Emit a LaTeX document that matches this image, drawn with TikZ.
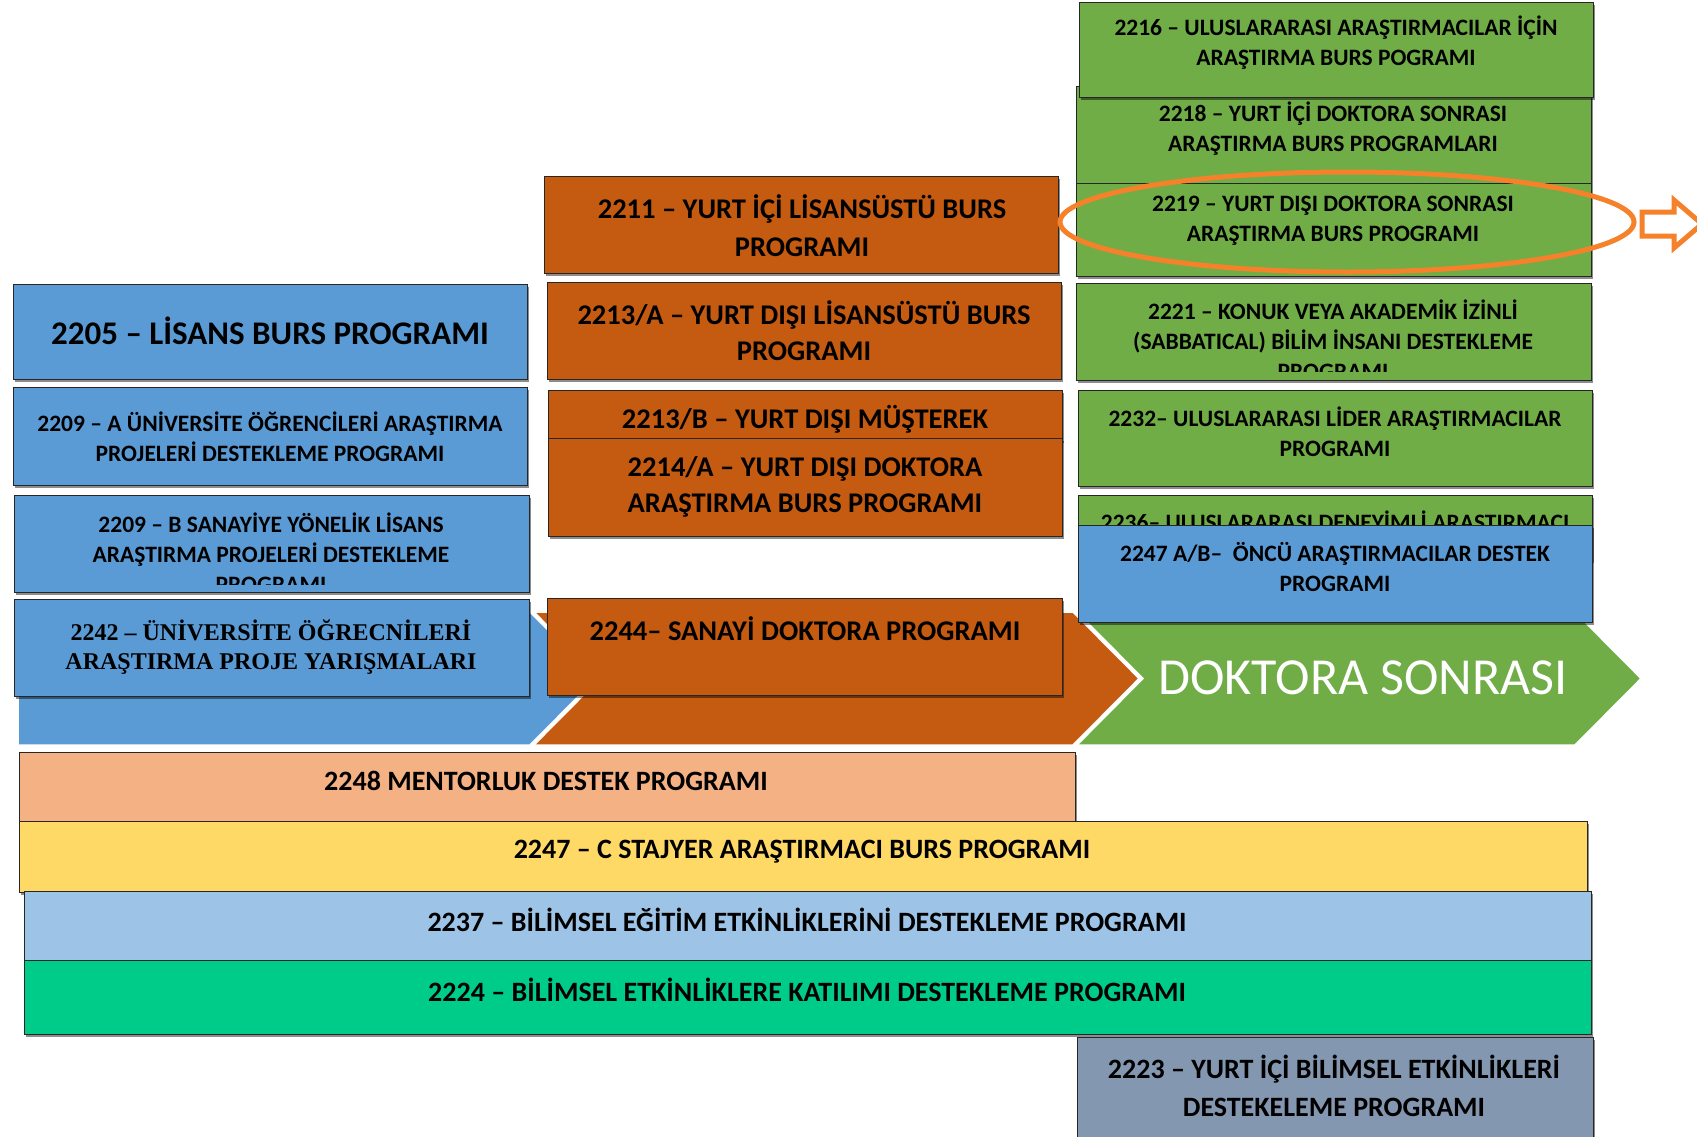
\documentclass[tikz,border=0pt]{standalone}
\usepackage{fontspec}
\setmainfont{Carlito}
\newfontfamily\timesb{Liberation Serif}
\usetikzlibrary{shadows}
\definecolor{cblue}{HTML}{5B9BD5}
\definecolor{corange}{HTML}{C55A11}
\definecolor{cgreen}{HTML}{70AD47}
\definecolor{csalmon}{HTML}{F4B183}
\definecolor{cyellow}{HTML}{FFD966}
\definecolor{clblue}{HTML}{9DC3E6}
\definecolor{cteal}{HTML}{00CC8A}
\definecolor{cslate}{HTML}{8497B0}
\definecolor{chl}{HTML}{F5822A}
\newcommand\mybox[6]{\node[box,fill=#2,minimum width={#5pt-#3pt},minimum height={#6pt-#4pt}] (#1) at (#3,#4) {};}
\begin{document}
\begin{tikzpicture}[x=1pt,y=-1pt,
  box/.style={draw=black!85,line width=1.3pt,inner sep=0pt,anchor=north west,
    drop shadow={shadow xshift=1pt,shadow yshift=-2.5pt,opacity=0.45,fill=black}},
  txt/.style={align=center,inner sep=0pt,text=black},
  fsmall/.style={font=\bfseries\fontsize{23.5}{30}\selectfont},
  fmid/.style={font=\bfseries\fontsize{28.5}{37}\selectfont},
  fbar/.style={font=\bfseries\fontsize{28}{38}\selectfont},
  hl/.style={draw=chl,line width=5pt},
  chev/.style={draw=white,line width=1.5pt}]
\useasboundingbox (0,0) rectangle (1697,1136);
\fill[white] (0,0) rectangle (1697,1136);
% chevrons
\path[chev,fill=cblue] (18,612) -- (530,612) -- (596,678.5) -- (530,745) -- (18,745) -- cycle;
\path[chev,fill=corange] (534,612) -- (1073,612) -- (1139,678.5) -- (1073,745) -- (534,745) -- (600,678.5) -- cycle;
\path[chev,fill=cgreen] (1077,612) -- (1575,612) -- (1641,678.5) -- (1575,745) -- (1077,745) -- (1143,678.5) -- cycle;
\node[font=\fontsize{52}{60}\selectfont,text=white,inner sep=0pt] (tds) at (1363,678) {DOKTORA SONRASI};
% left column
\mybox{b2205}{cblue}{13}{284}{527}{379}
\node[txt,font=\bfseries\fontsize{33}{40}\selectfont] (t2205) at (270,331) {2205 – LİSANS BURS PROGRAMI};
\mybox{b2209a}{cblue}{13}{387}{527}{485}
\node[txt,fsmall] (t2209a) at (270,437) {2209 – A ÜNİVERSİTE ÖĞRENCİLERİ ARAŞTIRMA\\PROJELERİ DESTEKLEME PROGRAMI};
\mybox{b2209b}{cblue}{14}{495}{529}{592}
\begin{scope}
\clip (15,496) rectangle (528,584);
\node[txt,fsmall] (t2209b) at (271,553) {2209 – B SANAYİYE YÖNELİK LİSANS\\ARAŞTIRMA PROJELERİ DESTEKLEME\\PROGRAMI};
\end{scope}
\mybox{b2242}{cblue}{14}{599}{529}{696}
\node[txt,font=\timesb\bfseries\fontsize{24}{29}\selectfont] (t2242) at (271,647.5) {2242 – ÜNİVERSİTE ÖĞRECNİLERİ\\ARAŞTIRMA PROJE YARIŞMALARI};
% middle column
\mybox{b2211}{corange}{544}{176}{1058}{273}
\node[txt,font=\bfseries\fontsize{28.5}{38}\selectfont] (t2211) at (802,226) {2211 – YURT İÇİ LİSANSÜSTÜ BURS\\PROGRAMI};
\mybox{b2213a}{corange}{547}{282}{1061}{379}
\node[txt,font=\bfseries\fontsize{28.5}{36}\selectfont] (t2213a) at (804,330.5) {2213/A – YURT DIŞI LİSANSÜSTÜ BURS\\PROGRAMI};
\mybox{b2213b}{corange}{548}{390}{1062}{440}
\node[txt,fmid] (t2213b) at (805,419) {2213/B – YURT DIŞI MÜŞTEREK};
\mybox{b2214a}{corange}{548}{438}{1062}{536}
\node[txt,font=\bfseries\fontsize{28.5}{36}\selectfont] (t2214a) at (805,487) {2214/A – YURT DIŞI DOKTORA\\ARAŞTIRMA BURS PROGRAMI};
\mybox{b2244}{corange}{547}{598}{1062}{695}
\node[txt,fmid] (t2244) at (805,629) {2244– SANAYİ DOKTORA PROGRAMI};
% right column
\mybox{b2218}{cgreen}{1076}{86}{1591}{183}
\node[txt,fsmall] (t2218) at (1333,129) {2218 – YURT İÇİ DOKTORA SONRASI\\ARAŞTIRMA BURS PROGRAMLARI};
\mybox{b2216}{cgreen}{1079}{2}{1593}{97}
\node[txt,fsmall] (t2216) at (1336,43) {2216 – ULUSLARARASI ARAŞTIRMACILAR İÇİN\\ARAŞTIRMA BURS POGRAMI};
\mybox{b2219}{cgreen}{1076}{183}{1591}{276}
\node[txt,fsmall] (t2219) at (1333,221) {2219 – YURT DIŞI DOKTORA SONRASI\\ARAŞTIRMA BURS PROGRAMI};
\mybox{b2221}{cgreen}{1076}{283}{1591}{380}
\begin{scope}
\clip (1077,284) rectangle (1590,371);
\node[txt,fsmall] (t2221) at (1333,340) {2221 – KONUK VEYA AKADEMİK İZİNLİ\\(SABBATICAL) BİLİM İNSANI DESTEKLEME\\PROGRAMI};
\end{scope}
\mybox{b2232}{cgreen}{1078}{390}{1592}{486}
\node[txt,fsmall] (t2232) at (1335,431.5) {2232– ULUSLARARASI LİDER ARAŞTIRMACILAR\\PROGRAMI};
\mybox{b2236}{cgreen}{1078}{495}{1592}{560}
\node[txt,fsmall] (t2236) at (1335,523) {2236– ULUSLARARASI DENEYİMLİ ARAŞTIRMACI};
\mybox{b2247ab}{cblue}{1078}{525}{1592}{622}
\node[txt,fsmall] (t2247ab) at (1335,567) {2247 A/B–\ \ ÖNCÜ ARAŞTIRMACILAR DESTEK\\PROGRAMI};
% highlight
\draw[hl] (1347,222) ellipse [x radius=287, y radius=50];
\draw[hl,fill=white,line join=miter] (1642,212) -- (1674,212) -- (1674,200) -- (1702,224) -- (1674,248) -- (1674,236) -- (1642,236) -- cycle;
% bars
\mybox{b2248}{csalmon}{19}{752}{1075}{821}
\node[txt,fbar] (t2248) at (546,781) {2248 MENTORLUK DESTEK PROGRAMI};
\mybox{b2247c}{cyellow}{19}{821}{1587}{892}
\node[txt,fbar] (t2247c) at (802,852) {2247 – C STAJYER ARAŞTIRMACI BURS PROGRAMI};
\mybox{b2237}{clblue}{24}{891}{1591}{960}
\node[txt,fbar] (t2237) at (807,920) {2237 – BİLİMSEL EĞİTİM ETKİNLİKLERİNİ DESTEKLEME PROGRAMI};
\mybox{b2224}{cteal}{24}{960}{1591}{1034}
\node[txt,fbar] (t2224) at (807,990) {2224 – BİLİMSEL ETKİNLİKLERE KATILIMI DESTEKLEME PROGRAMI};
\mybox{b2223}{cslate}{1077}{1037}{1593}{1150}
\node[txt,fbar] (t2223) at (1334,1086) {2223 – YURT İÇİ BİLİMSEL ETKİNLİKLERİ\\DESTEKELEME PROGRAMI};
\end{tikzpicture}
\end{document}
